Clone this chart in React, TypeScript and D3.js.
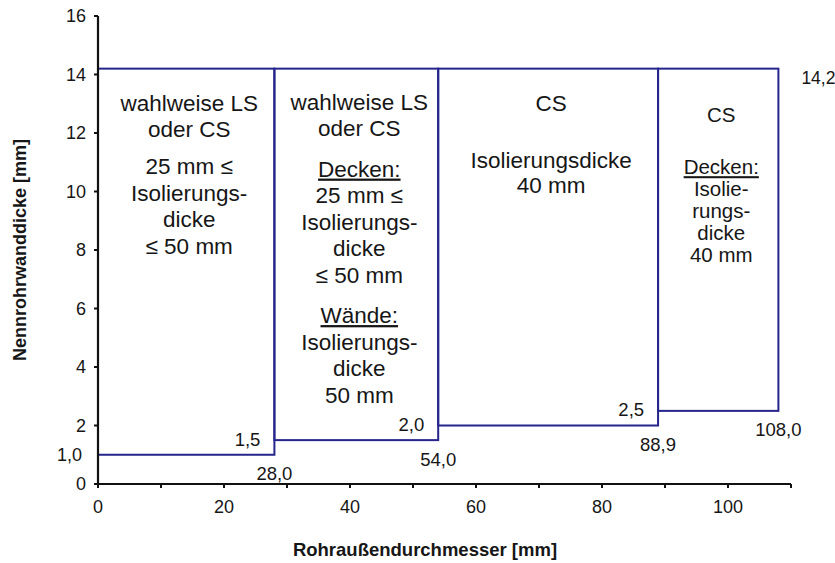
import React from 'react';
import * as d3 from 'd3';

const W = 835;
const H = 563;

// x boundaries of the ranges (Rohraußendurchmesser, mm)
const boundaries = [0, 28.0, 54.0, 88.9, 108.0];
// minimum wall thickness per range (mm)
const minWall = [1.0, 1.5, 2.0, 2.5];
// common maximum wall thickness (mm)
const maxWall = 14.2;

const xTicks = [0, 10, 20, 30, 40, 50, 60, 70, 80, 90, 100, 110];
const xTickLabels = [0, 20, 40, 60, 80, 100];
const yTicks = [0, 2, 4, 6, 8, 10, 12, 14, 16];

// box text ("" = paragraph gap, "_" prefix = underlined)
const box1Lines = ['wahlweise LS', 'oder CS', '', '25 mm ≤', 'Isolierungs-', 'dicke', '≤ 50 mm'];
const box2Lines = ['wahlweise LS', 'oder CS', '', '_Decken:', '25 mm ≤', 'Isolierungs-', 'dicke', '≤ 50 mm', '', '_Wände:', 'Isolierungs-', 'dicke', '50 mm'];
const box3Lines = ['CS', '', 'Isolierungsdicke', '40 mm'];
const box4Lines = ['CS', '', '_Decken:', 'Isolie-', 'rungs-', 'dicke', '40 mm'];
const boxLines = [box1Lines, box2Lines, box3Lines, box4Lines];

// layout for text blocks
const boxLayout = [
  { start: 103, lineH: 26.5, gapH: 10.5, size: 22.5 },
  { start: 102, lineH: 26.6, gapH: 13.5, size: 22.5 },
  { start: 103, lineH: 25, gapH: 32, size: 22.5 },
  { start: 115, lineH: 22, gapH: 30, size: 20.5 },
];

const xTitle = 'Rohraußendurchmesser [mm]';
const yTitle = 'Nennrohrwanddicke [mm]';

const deFormat = d3.formatLocale({ decimal: ',', thousands: '.', grouping: [3], currency: ['', '€'] }).format('.1f');

const BLUE = '#25258c';
const TXT = '#161616';
const FONT = '"Liberation Sans", Arial, sans-serif';

export default function App() {
  const x = d3.scaleLinear().domain([0, 110]).range([98, 791]);
  const y = d3.scaleLinear().domain([0, 16]).range([484, 16]);

  const rects = minWall.map((mw, i) => ({
    x0: boundaries[i],
    x1: boundaries[i + 1],
    y0: mw,
    y1: maxWall,
  }));

  const renderBoxText = (lines: string[], i: number) => {
    const L = boxLayout[i];
    const cx = (x(boundaries[i]) + x(boundaries[i + 1])) / 2 + 3;
    let yy = L.start;
    const out: React.ReactNode[] = [];
    lines.forEach((ln, j) => {
      if (j > 0) yy += L.lineH;
      if (ln === '') {
        yy += L.gapH - L.lineH;
        return;
      }
      const ul = ln.startsWith('_');
      const t = ul ? ln.slice(1) : ln;
      out.push(
        <text
          key={j}
          x={cx}
          y={yy}
          dy="0.35em"
          textAnchor="middle"
          fontSize={L.size}
          fill={TXT}
          style={{ textDecoration: ul ? 'underline' : 'none' }}
        >
          {t}
        </text>
      );
    });
    return <g key={'bt' + i}>{out}</g>;
  };

  return (
    <svg
      width={W}
      height={H}
      style={{ position: 'absolute', left: 0, top: 0, background: '#fff' }}
      fontFamily={FONT}
    >
      <rect x={0} y={0} width={W} height={H} fill="#fff" />

      {/* boxes */}
      {rects.map((r, i) => (
        <rect
          key={i}
          x={x(r.x0)}
          y={y(r.y1)}
          width={x(r.x1) - x(r.x0)}
          height={y(r.y0) - y(r.y1)}
          fill="none"
          stroke={BLUE}
          strokeWidth={2}
        />
      ))}

      {/* axes */}
      <line x1={x(0)} x2={x(110)} y1={y(0)} y2={y(0)} stroke="#111" strokeWidth={2.2} />
      <line x1={x(0)} x2={x(0)} y1={y(0)} y2={y(16)} stroke="#111" strokeWidth={2.2} />
      {xTicks.map((t) => (
        <line key={'xt' + t} x1={x(t)} x2={x(t)} y1={y(0)} y2={y(0) + 4} stroke="#111" strokeWidth={2} />
      ))}
      {yTicks.map((t) => (
        <line key={'yt' + t} x1={x(0) - 4} x2={x(0)} y1={y(t)} y2={y(t)} stroke="#111" strokeWidth={2} />
      ))}
      {xTickLabels.map((t) => (
        <text key={'xl' + t} x={x(t)} y={507} dy="0.35em" textAnchor="middle" fontSize={18} fill={TXT}>
          {t}
        </text>
      ))}
      {yTicks.map((t) => (
        <text key={'yl' + t} x={86} y={y(t)} dy="0.35em" textAnchor="end" fontSize={18} fill={TXT}>
          {t}
        </text>
      ))}
      <text x={82} y={y(minWall[0])} dy="0.35em" textAnchor="end" fontSize={18} fill={TXT}>
        {deFormat(minWall[0])}
      </text>

      {/* min wall labels */}
      {minWall.slice(1).map((mw, k) => (
        <text
          key={'mw' + k}
          x={x(boundaries[k + 1]) - 14}
          y={y(mw) - 1}
          dy="0.35em"
          textAnchor="end"
          fontSize={18.5}
          fill={TXT}
        >
          {deFormat(mw)}
        </text>
      ))}

      {/* boundary labels */}
      {boundaries.slice(1).map((b, k) => (
        <text
          key={'bl' + k}
          x={x(b)}
          y={y(minWall[k]) + 19}
          dy="0.35em"
          textAnchor="middle"
          fontSize={18.5}
          fill={TXT}
        >
          {deFormat(b)}
        </text>
      ))}

      {/* max label */}
      <text x={x(boundaries[4]) + 23} y={y(maxWall) + 9} dy="0.35em" textAnchor="start" fontSize={17.5} fill={TXT}>
        {deFormat(maxWall)}
      </text>

      {/* box texts */}
      {boxLines.map((lines, i) => renderBoxText(lines, i))}

      {/* titles */}
      <text x={425} y={550} dy="0.35em" textAnchor="middle" fontSize={18.5} fontWeight="bold" fill={TXT}>
        {xTitle}
      </text>
      <text
        transform={`translate(20,${250}) rotate(-90)`}
        dy="0.35em"
        textAnchor="middle"
        fontSize={18}
        fontWeight="bold"
        fill={TXT}
      >
        {yTitle}
      </text>
    </svg>
  );
}
